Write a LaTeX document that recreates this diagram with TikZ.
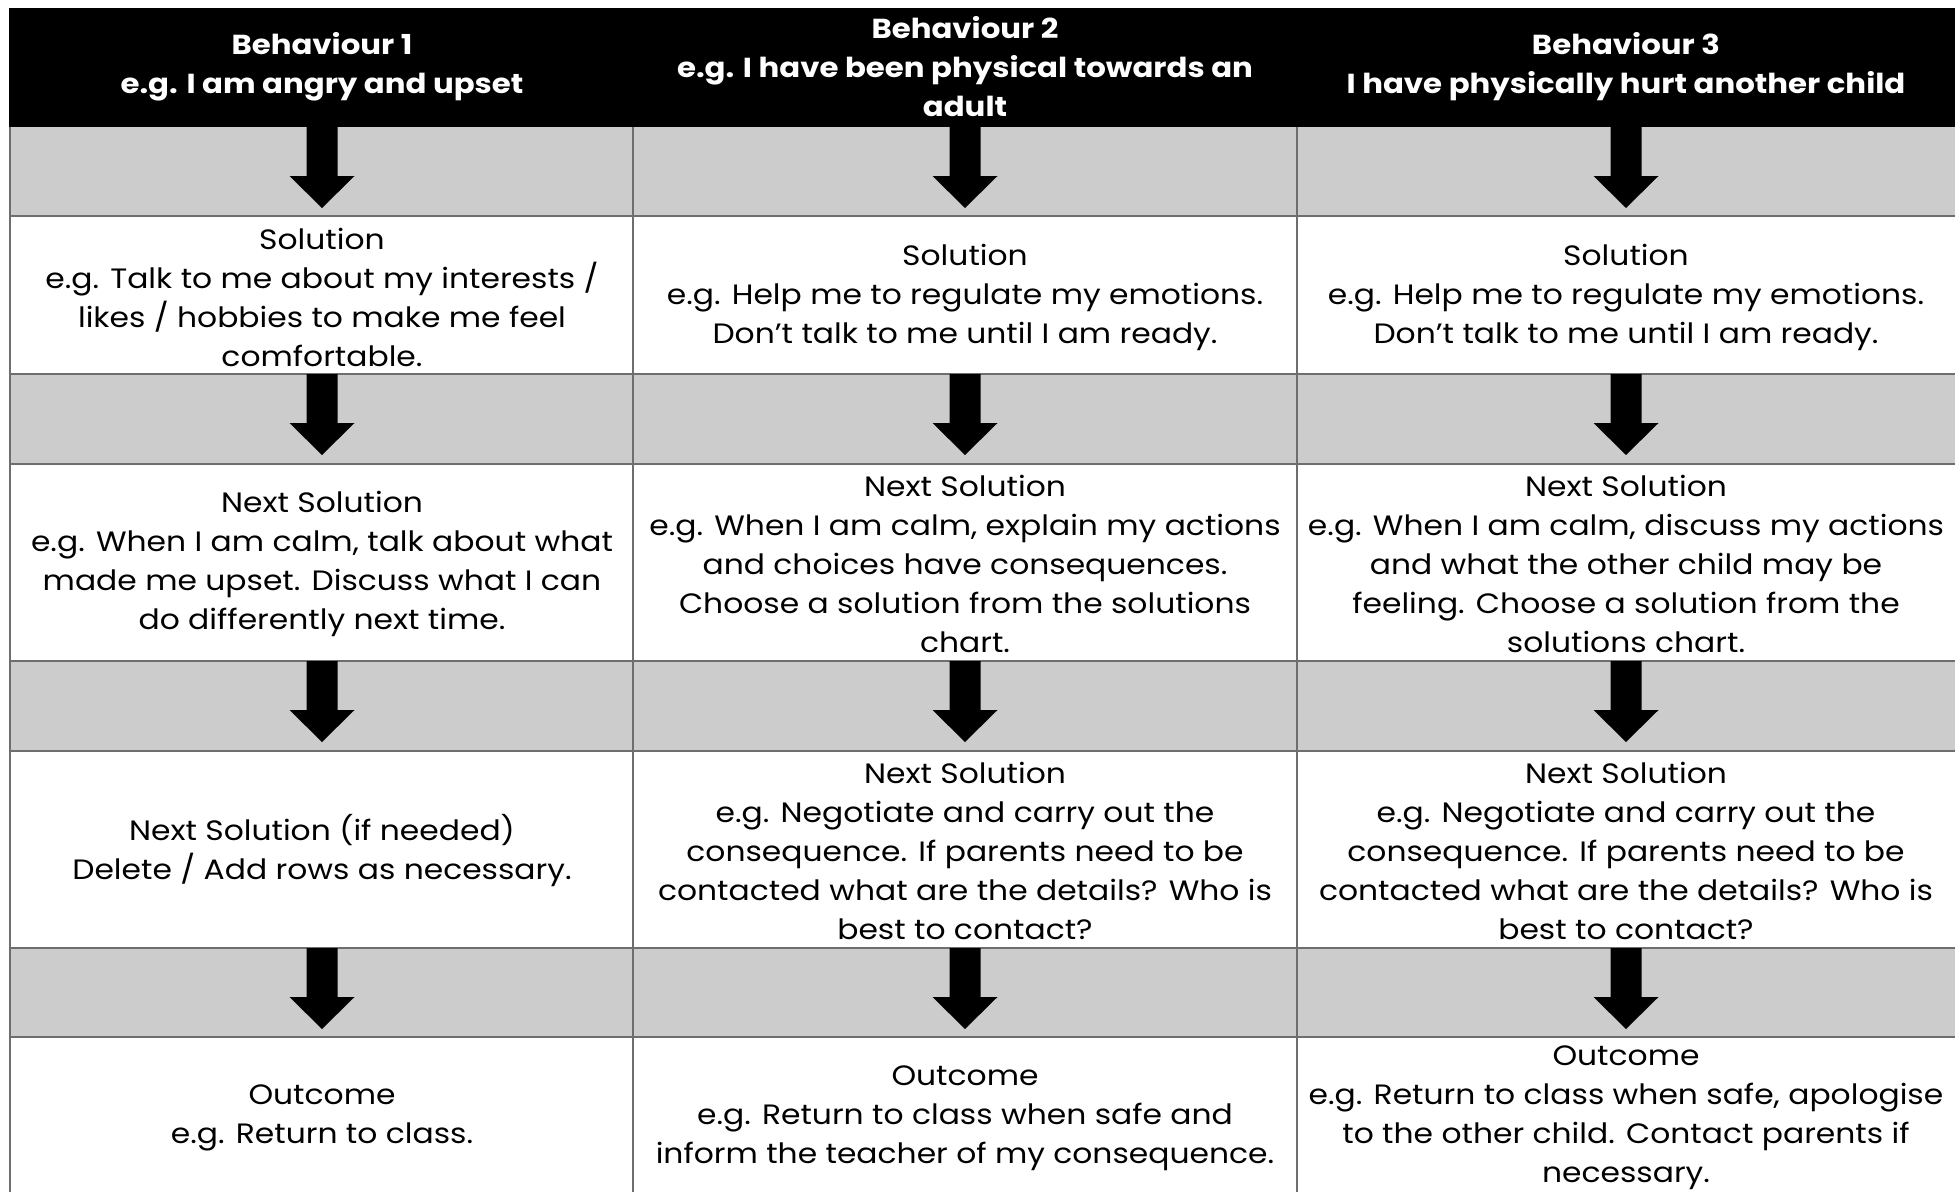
\documentclass[tikz,border=0pt]{standalone}
\usepackage{fontspec}
\setmainfont[FakeStretch=1.12]{Poppins}
\usetikzlibrary{calc}
\definecolor{rowgray}{HTML}{CCCCCC}
\definecolor{gridgray}{HTML}{6E6E6E}
\newcommand\blockarr[1]{\fill[black] ($(#1)+(-15.5,0)$) -- ($(#1)+(15.5,0)$) -- ($(#1)+(15.5,49)$) -- ($(#1)+(32.5,49)$) -- ($(#1)+(0,81)$) -- ($(#1)+(-32.5,49)$) -- ($(#1)+(-15.5,49)$) -- cycle;}
\tikzset{
  celltext/.style={align=center, inner sep=0pt, text=black, font=\fontsize{28}{39}\selectfont},
  headtext/.style={align=center, inner sep=0pt, text=white, font=\bfseries\fontsize{27.5}{39}\selectfont},
  gridline/.style={draw=gridgray, line width=2pt}
}
\begin{document}
\begin{tikzpicture}[x=1pt,y=-1pt]
\useasboundingbox (0,0) rectangle (1955,1192);
\fill[white] (0,0) rectangle (1955,1192);
% gray rows
\foreach \t/\b in {127/216, 374/464, 661/751, 948/1037}{
  \fill[rowgray] (10,\t) rectangle (1955,\b);
}
% grid
\foreach \y in {216,374,464,661,751,948,1037}{
  \draw[gridline] (10,\y) -- (1955,\y);
}
\foreach \x in {10,633,1297}{
  \draw[gridline] (\x,127) -- (\x,1192);
}
% header
\fill[black] (9,7.5) rectangle (1955,127);
% headers
\node[headtext] (h1) at (322,67) {Behaviour 1\\e.g. I am angry and upset};
\node[headtext] (h2) at (965,67) {Behaviour 2\\e.g. I have been physical towards an\\adult};
\node[headtext] (h3) at (1626,67) {Behaviour 3\\I have physically hurt another child};
% arrows
\foreach \r/\t in {1/127, 2/374, 3/661, 4/948}{
  \coordinate (a\r c1) at (322,\t);
  \coordinate (a\r c2) at (965,\t);
  \coordinate (a\r c3) at (1626,\t);
}
\foreach \r in {1,2,3,4}{
  \foreach \c in {1,2,3}{
    \blockarr{a\r c\c}
  }
}
% row 1
\node[celltext] (s1c1) at (322,297) {Solution\\e.g. Talk to me about my interests /\\likes / hobbies to make me feel\\comfortable.};
\node[celltext] (s1c2) at (965,297) {Solution\\e.g. Help me to regulate my emotions.\\Don’t talk to me until I am ready.};
\node[celltext] (s1c3) at (1626,297) {Solution\\e.g. Help me to regulate my emotions.\\Don’t talk to me until I am ready.};
% row 2
\node[celltext] (s2c1) at (322,564) {Next Solution\\e.g. When I am calm, talk about what\\made me upset. Discuss what I can\\do differently next time.};
\node[celltext] (s2c2) at (965,564) {Next Solution\\e.g. When I am calm, explain my actions\\and choices have consequences.\\Choose a solution from the solutions\\chart.};
\node[celltext] (s2c3) at (1626,564) {Next Solution\\e.g. When I am calm, discuss my actions\\and what the other child may be\\feeling. Choose a solution from the\\solutions chart.};
% row 3
\node[celltext] (s3c1) at (322,851) {Next Solution (if needed)\\Delete / Add rows as necessary.};
\node[celltext] (s3c2) at (965,851) {Next Solution\\e.g. Negotiate and carry out the\\consequence. If parents need to be\\contacted what are the details? Who is\\best to contact?};
\node[celltext] (s3c3) at (1626,851) {Next Solution\\e.g. Negotiate and carry out the\\consequence. If parents need to be\\contacted what are the details? Who is\\best to contact?};
% row 4
\node[celltext] (s4c1) at (322,1118) {Outcome\\e.g. Return to class.};
\node[celltext] (s4c2) at (965,1118) {Outcome\\e.g. Return to class when safe and\\inform the teacher of my consequence.};
\node[celltext] (s4c3) at (1626,1118) {Outcome\\e.g. Return to class when safe, apologise\\to the other child. Contact parents if\\necessary.};
\end{tikzpicture}
\end{document}
